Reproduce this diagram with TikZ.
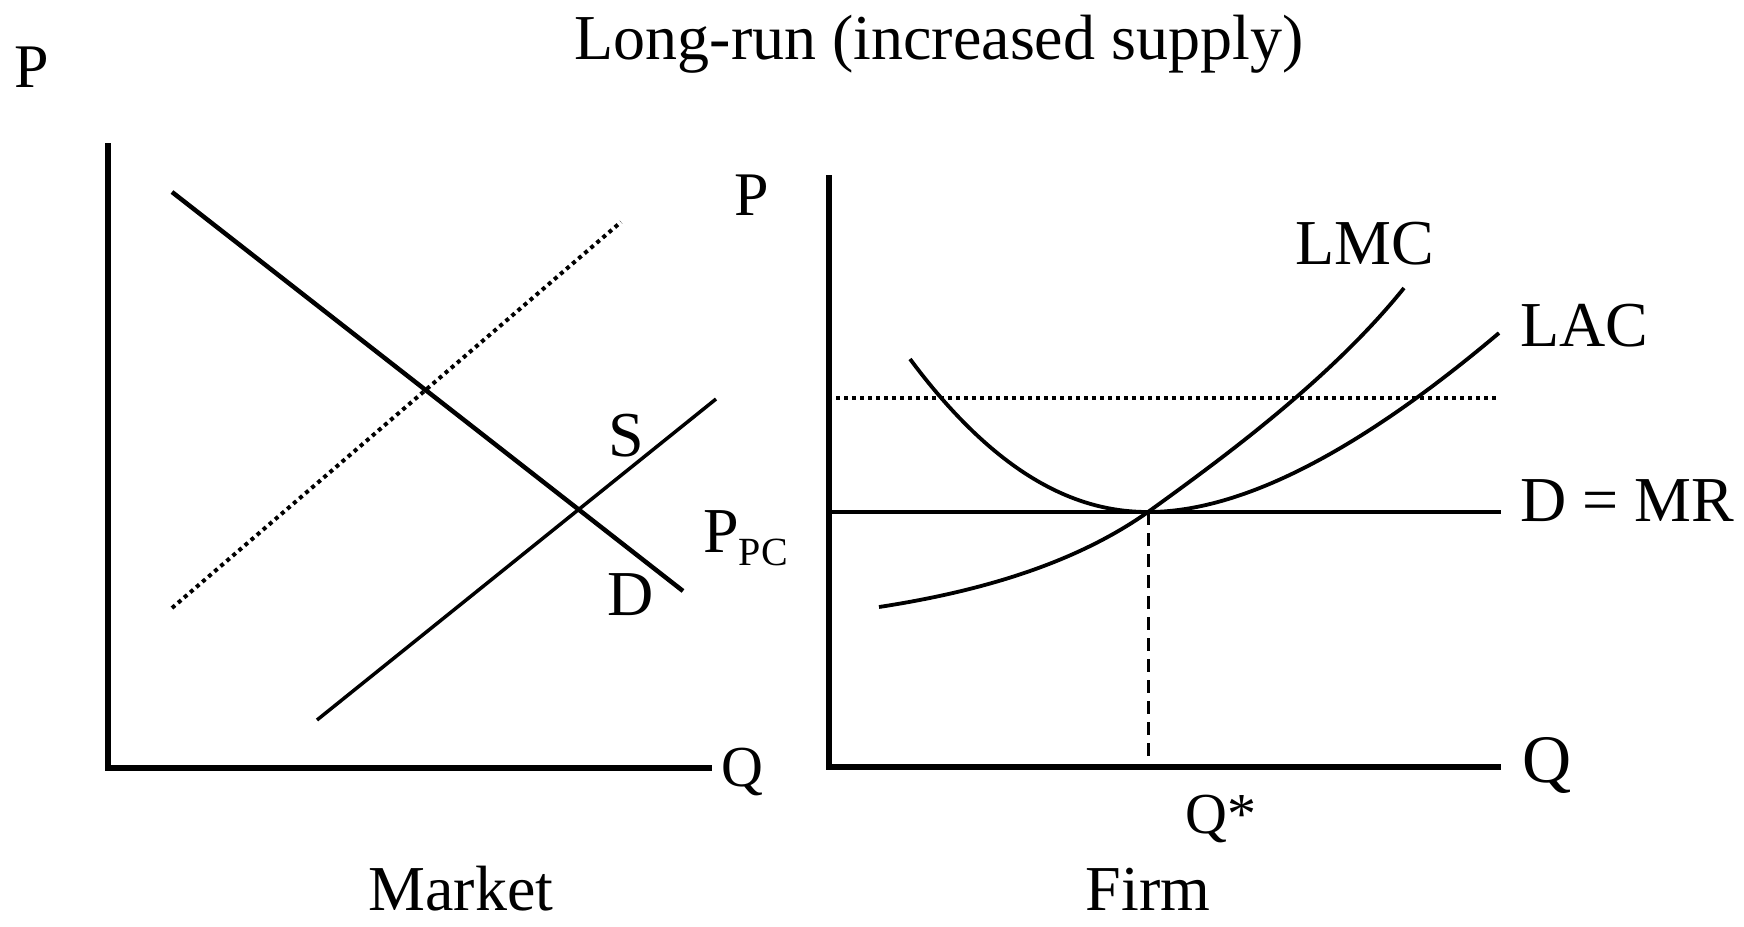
\documentclass[tikz,border=0pt]{standalone}
\usepackage{fontspec}
\setmainfont{Liberation Serif}
\usetikzlibrary{positioning,calc}

\begin{document}
\begin{tikzpicture}[
    x=1pt,y=-1pt,
    every node/.style={font=\fontsize{64}{70}\selectfont,inner sep=0pt,anchor=base},
    axislbl/.style={font=\fontsize{62}{68}\selectfont},
    qlbl/.style={font=\fontsize{58}{64}\selectfont},
    axis/.style={line width=6.5pt,line join=miter},
    demand/.style={line width=4.5pt},
    supply/.style={line width=3.5pt},
    cost/.style={line width=3.8pt},
    newsupply/.style={line width=4pt,dash pattern=on 4pt off 4pt},
    guide/.style={line width=3pt,dash pattern=on 13pt off 8pt}
  ]
    \useasboundingbox (0,0) rectangle (1744,926);
    \node (title) at (939,59) {Long-run (increased supply)};
    % market panel
    \coordinate (mtop) at (108,143);
    \coordinate (morig) at (108,768);
    \coordinate (mend) at (712,768);
    \draw[axis] (mtop) -- (morig) -- (mend);
    \node[axislbl] (mP) at (32,87) {P};
    \node[qlbl] (mQ) at (742,786) {Q};
    \coordinate (dtop) at (172,192);
    \coordinate (dbot) at (683,591);
    \coordinate (sbot) at (317,720);
    \coordinate (stop) at (716,399);
    \coordinate (s2bot) at (172,608);
    \coordinate (s2top) at (621,222);
    \draw[demand] (dtop) -- (dbot);
    \draw[supply] (sbot) -- (stop);
    \draw[newsupply] (s2bot) -- (s2top);
    \node (slbl) at (626,456) {S};
    \node (dlbl) at (631,615) {D};
    \node[anchor=base west] (ppc) at (703,552) {P{\fontsize{40}{44}\selectfont\raisebox{-13pt}{PC}}};
    \node (market) at (461,910) {Market};
    % firm panel
    \coordinate (ftop) at (829,175);
    \coordinate (forig) at (829,767);
    \coordinate (fend) at (1501,767);
    \draw[axis] (ftop) -- (forig) -- (fend);
    \node[axislbl] (fP) at (752,215) {P};
    \node[font=\fontsize{68}{74}\selectfont] (fQ) at (1547,782) {Q};
    \coordinate (mrleft) at (829,512);
    \coordinate (mrright) at (1501,512);
    \coordinate (hileft) at (836,398);
    \coordinate (hiright) at (1498,398);
    \coordinate (eq) at (1148,512);
    \coordinate (eqbot) at (1148,767);
    \draw[demand] (mrleft) -- (mrright);
    \draw[newsupply] (hileft) -- (hiright);
    \draw[guide] (eq) -- (eqbot);
    \draw[cost] (910,359) .. controls (1000,480) and (1080,512) .. (eq)
      .. controls (1260,512) and (1390,425) .. (1499,333);
    \draw[cost] (879,607) .. controls (990,590) and (1080,560) .. (eq)
      .. controls (1220,460) and (1330,380) .. (1404,288);
    \node (lmc) at (1365,264) {LMC};
    \node (lac) at (1584,346) {LAC};
    \node (dmr) at (1627,521) {D = MR};
    \node[qlbl] (qstar) at (1221,833) {Q*};
    \node (firm) at (1148,910) {Firm};
  \end{tikzpicture}
\end{document}
